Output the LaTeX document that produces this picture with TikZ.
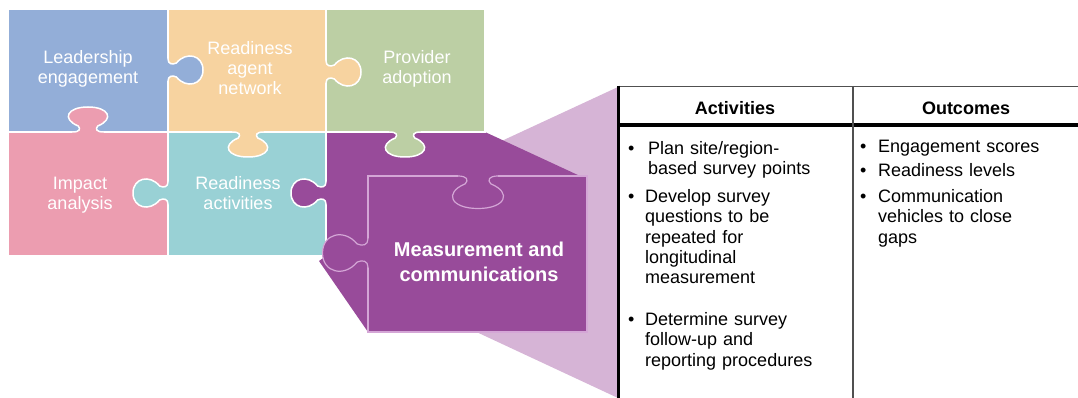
\documentclass[tikz,border=0pt]{standalone}
\usepackage{fontspec}
\setmainfont{Liberation Sans}

\definecolor{blueP}{HTML}{93AED8}
\definecolor{orangeP}{HTML}{F7D3A0}
\definecolor{greenP}{HTML}{BCCFA4}
\definecolor{pinkP}{HTML}{EC9DB0}
\definecolor{tealP}{HTML}{99D1D5}
\definecolor{purpleP}{HTML}{984B9A}
\definecolor{funnelP}{HTML}{D6B4D6}
\definecolor{edgeP}{HTML}{D4A6D6}
\definecolor{ruleGray}{HTML}{505050}

\tikzset{
  % jigsaw tab: u runs along the edge, v points outwards
  pics/tab/.style 2 args={code={
    \fill[#1] (-11,-1.5) -- (-11,0) .. controls (-6,0) and (-5,3) .. (-7,6)
      .. controls (-19,13) and (-15,25) .. (0,25)
      .. controls (15,25) and (19,13) .. (7,6)
      .. controls (5,3) and (6,0) .. (11,0) -- (11,-1.5) -- cycle;
    \draw[#2] (-11,0) .. controls (-6,0) and (-5,3) .. (-7,6)
      .. controls (-19,13) and (-15,25) .. (0,25)
      .. controls (15,25) and (19,13) .. (7,6)
      .. controls (5,3) and (6,0) .. (11,0);
  }},
  seam/.style={draw=white, line width=1.5pt},
  piece/.style={seam},
  bigline/.style={draw=edgeP, line width=1.2pt},
  piecetext/.style={text=white, align=center, inner sep=0pt,
    font=\fontsize{18}{20}\selectfont},
  bigtext/.style={text=white, align=center, inner sep=0pt,
    font=\bfseries\fontsize{20}{25}\selectfont},
  headtext/.style={inner sep=0pt, anchor=base,
    font=\bfseries\fontsize{18}{21}\selectfont},
  itemtext/.style={inner sep=0pt, anchor=base west, text width=205pt,
    align=left, font=\fontsize{18}{20.3}\selectfont},
}

\begin{document}
\begin{tikzpicture}[x=1pt,y=-1pt]
\useasboundingbox (0,0) rectangle (1078,398);

% zoom funnel towards the table
\fill[funnelP] (480,151) -- (618,87) -- (618,398) -- (455,322) -- cycle;

% measurement piece, its projection and the enlarged copy
\fill[purpleP] (326,132) -- (485,132) -- (580,176) -- (587,176) -- (587,332)
  -- (368,332) -- (319,261) -- (326,256) -- cycle;

% grid of pieces
\draw[piece, fill=blueP]   (8,9)     rectangle (168,132);
\draw[piece, fill=orangeP] (168,9)   rectangle (326,132);
\draw[piece, fill=greenP]  (326,9)   rectangle (485,132);
\draw[piece, fill=pinkP]   (8,132)   rectangle (168,256);
\draw[piece, fill=tealP]   (168,132) rectangle (326,256);

% tabs linking the pieces
\pic[xscale=1.4, rotate=90]  at (168,70)  {tab={blueP}{seam}};
\pic[xscale=1.4, rotate=90]  at (326,72)  {tab={orangeP}{seam}};
\pic[xscale=1.4, rotate=180] at (88,132)  {tab={pinkP}{seam}};
\pic[xscale=1.4]             at (248,132) {tab={orangeP}{seam}};
\pic[xscale=1.4]             at (405,132) {tab={greenP}{seam}};
\pic[xscale=1.4, rotate=-90] at (168,193) {tab={tealP}{seam}};
\pic[xscale=1.4, rotate=-90] at (326,193) {tab={purpleP}{seam}};

% outline of the enlarged piece
\draw[bigline] (457.98,176) -- (368,176) -- (368,238.7);
\draw[bigline] (368,267.3) -- (368,332) -- (587,332) -- (587,176) -- (498.02,176);
\pic[scale=1.3, xscale=1.4]             at (478,176) {tab={fill=none}{bigline}};
\pic[scale=1.3, xscale=1.4, rotate=-90] at (368,253) {tab={purpleP}{bigline}};

% piece labels
\node[piecetext] (lead)  at (88,69)   {Leadership\\engagement};
\node[piecetext] (agent) at (250,68)  {Readiness\\agent\\network};
\node[piecetext] (prov)  at (417,69)  {Provider\\adoption};
\node[piecetext] (imp)   at (80,195)  {Impact\\analysis};
\node[piecetext] (ract)  at (238,193) {Readiness\\activities};
\node[bigtext]   (meas)  at (479,262) {Measurement and\\communications};

% table frame
\draw[ruleGray, line width=1.5pt] (618,86.5) -- (1078,86.5);
\draw[black, line width=3.5pt] (618,125) -- (1078,125);
\draw[ruleGray, line width=2pt] (853,86) -- (853,398);
\draw[black, line width=2.5pt] (618.5,85.75) -- (618.5,398);

% table headers
\node[headtext] (hact) at (735,114.5) {Activities};
\node[headtext] (hout) at (966,114.5) {Outcomes};

% activities column
\node[itemtext] (a1) at (648,154.5)
  {\llap{•\hspace{13.7pt}}Plan site/region-\\based survey points};
\node[itemtext] (a2) at (645,202.5)
  {\llap{•\hspace{10.7pt}}Develop survey\\questions to be\\repeated for\\longitudinal\\measurement};
\node[itemtext] (a3) at (645,325.5)
  {\llap{•\hspace{10.7pt}}Determine survey\\follow-up and\\reporting procedures};

% outcomes column
\node[itemtext] (o1) at (878,152.5) {\llap{•\hspace{11.8pt}}Engagement scores};
\node[itemtext] (o2) at (878,176.5) {\llap{•\hspace{11.8pt}}Readiness levels};
\node[itemtext] (o3) at (878,202.5)
  {\llap{•\hspace{11.8pt}}Communication\\vehicles to close\\gaps};
\end{tikzpicture}
\end{document}
